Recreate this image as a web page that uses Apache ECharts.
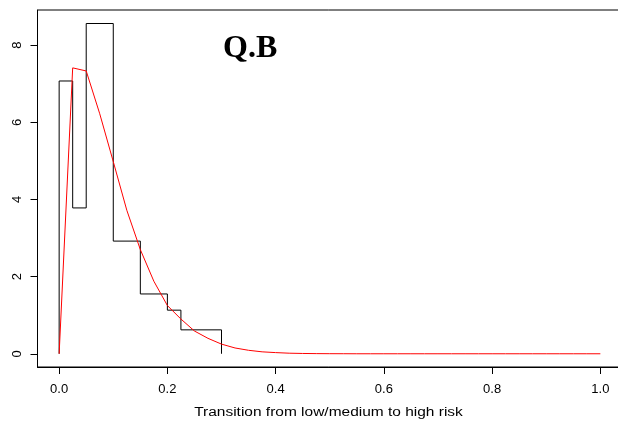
<!doctype html>
<html lang="en">
<head>
  <meta charset="UTF-8">
  <title>Q.B</title>
  <style>
    html, body { margin: 0; padding: 0; background: #fff; }
  </style>
</head>
<body>
<div id="main" style="width: 618px;height: 427px"></div>
<script src="https://cdn.jsdelivr.net/npm/echarts@6/dist/echarts.min.js"></script>
<script>
    // histogram (unequal breaks), density scale
    var binLeft = [0, 0.025, 0.05, 0.1, 0.15, 0.2, 0.225];
    var binRight = [0.025, 0.05, 0.1, 0.15, 0.2, 0.225, 0.3];
    var binHeight = [7.07, 3.78, 8.56, 2.92, 1.55, 1.13, 0.62];

    var curveX = [0, 0.025, 0.05, 0.075, 0.1, 0.125, 0.15, 0.175, 0.2, 0.225,
        0.25, 0.275, 0.3, 0.325, 0.35, 0.375, 0.4, 0.425, 0.45, 0.475,
        0.5, 0.525, 0.55, 0.575, 0.6, 0.625, 0.65, 0.675, 0.7, 0.725,
        0.75, 0.775, 0.8, 0.825, 0.85, 0.875, 0.9, 0.925, 0.95, 0.975, 1];
    var curveY = [0, 7.41, 7.33, 6.22, 4.98, 3.72, 2.70, 1.88, 1.25, 0.90,
        0.59, 0.40, 0.25, 0.15, 0.09, 0.05, 0.03, 0.015, 0.008, 0.004,
        0.002, 0.001, 0, 0, 0, 0, 0, 0, 0, 0,
        0, 0, 0, 0, 0, 0, 0, 0, 0, 0, 0];

    var xTicks = [0, 0.2, 0.4, 0.6, 0.8, 1.0];
    var yTicks = [0, 2, 4, 6, 8];
    var xTitle = 'Transition from low/medium to high risk';

    // outline of the histogram only (no inner edges), like the original
    var outline = [[binLeft[0], 0]];
    binLeft.forEach(function (l, i) {
        outline.push([l, binHeight[i]]);
        outline.push([binRight[i], binHeight[i]]);
    });
    outline.push([binRight[binRight.length - 1], 0]);

    var curve = curveX.map(function (x, i) { return [x, curveY[i]]; });

    var chart = echarts.init(document.getElementById('main'), null, {renderer: 'canvas'});
    chart.setOption({
        animation: false,
        textStyle: {fontFamily: 'Liberation Sans'},
        title: {
            text: 'Q.B',
            left: 218,
            top: 28,
            textStyle: {fontFamily: 'Liberation Serif', fontWeight: 'bold', fontSize: 32, color: '#000'}
        },
        graphic: [{
            type: 'text',
            x: 328.5,
            y: 413,
            scaleX: 1.29,
            style: {
                text: xTitle,
                fontSize: 12,
                fontFamily: 'Liberation Sans',
                fill: '#000',
                textAlign: 'center',
                textVerticalAlign: 'middle'
            }
        }],
        grid: {
            left: 37.5,
            top: 10,
            right: -4,
            bottom: 60,
            show: true,
            borderColor: '#000',
            borderWidth: 1,
            outerBoundsMode: 'none'
        },
        xAxis: {
            type: 'value',
            min: -0.04,
            max: 1.04,
            axisLine: {show: true, onZero: false, lineStyle: {color: '#000'}},
            axisTick: {show: true, length: 7, customValues: xTicks, lineStyle: {color: '#000'}},
            axisLabel: {
                customValues: xTicks,
                margin: 16,
                fontSize: 13,
                color: '#000',
                formatter: function (v) { return v.toFixed(1); }
            },
            splitLine: {show: false}
        },
        yAxis: {
            type: 'value',
            min: -0.343,
            max: 8.91,
            axisLine: {show: true, onZero: false, lineStyle: {color: '#000'}},
            axisTick: {show: true, length: 7, customValues: yTicks, lineStyle: {color: '#000'}},
            axisLabel: {
                customValues: yTicks,
                rotate: 90,
                margin: 14,
                fontSize: 13,
                color: '#000'
            },
            splitLine: {show: false}
        },
        series: [
            {
                type: 'line',
                data: outline,
                showSymbol: false,
                symbol: 'none',
                lineStyle: {color: '#000', width: 1}
            },
            {
                type: 'line',
                data: curve,
                showSymbol: false,
                symbol: 'none',
                lineStyle: {color: '#ff0000', width: 1}
            }
        ]
    });
</script>
</body>
</html>
